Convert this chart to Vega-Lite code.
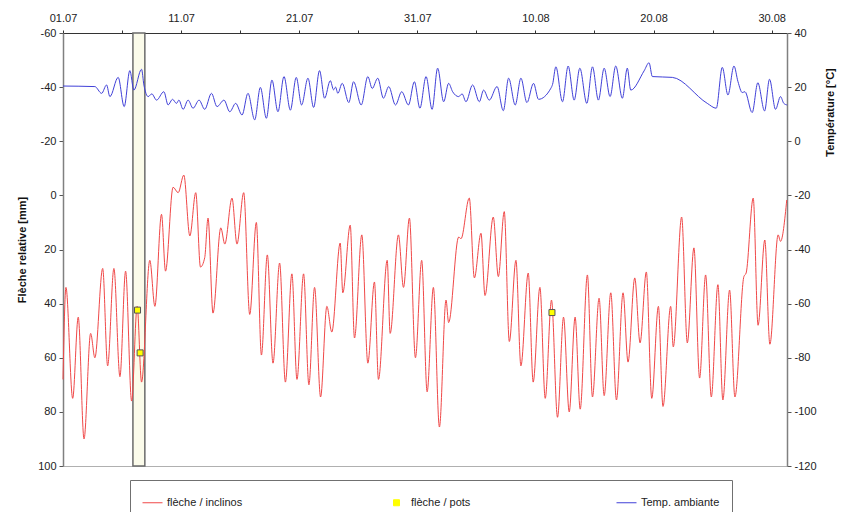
{
  "$schema": "https://vega.github.io/schema/vega-lite/v6.json",
  "width": 724,
  "height": 433,
  "autosize": {"type": "none"},
  "padding": {"left": 63, "top": 33, "right": 56, "bottom": 46},
  "background": "white",
  "config": {
    "view": {"stroke": "#b0b0b0", "strokeWidth": 1},
    "font": "Liberation Sans",
    "axis": {
      "labelFont": "Liberation Sans",
      "labelFontSize": 11,
      "labelColor": "#222222",
      "titleFont": "Liberation Sans",
      "titleFontSize": 11,
      "titleFontWeight": "bold",
      "titleColor": "#111111",
      "grid": false,
      "tickColor": "#555555",
      "domainColor": "#808080"
    },
    "axisX": {
      "orient": "top",
      "title": null,
      "values": [0,1,2,3,4,5,6,7,8,9,10,11,12,13,14,15,16,17,18,19,20,21,22,23,24,25,26,27,28,29,30,31,32,33,34,35,36,37,38,39,40,41,42,43,44,45,46,47,48,49,50,51,52,53,54,55,56,57,58,59,60,61],
      "labelExpr": "datum.value % 10 === 0 ? timeFormat(datetime(2000, 6, 1 + datum.value), '%d.%m') : ''",
      "labelOverlap": false,
      "labelFlush": false,
      "labelPadding": 7,
      "tickSize": 3,
      "domainColor": "#333333",
      "tickColor": "#333333"
    },
    "legend": {"labelFont": "Liberation Sans", "labelFontSize": 11, "labelColor": "#222222"}
  },
  "datasets": {
    "bande": [{"debut": 5.92, "fin": 6.93}],
    "pots": [
      {"jour": 6.31, "fleche": 42.4},
      {"jour": 6.53, "fleche": 58.2},
      {"jour": 41.4, "fleche": 43.3}
    ],
    "fleche": [
      {"jour": 0, "fleche": 68}, {"jour": 0.25, "fleche": 34}, {"jour": 0.82, "fleche": 75}, {"jour": 1.29, "fleche": 45},
      {"jour": 1.78, "fleche": 90}, {"jour": 2.34, "fleche": 51}, {"jour": 2.7, "fleche": 60}, {"jour": 3.36, "fleche": 27},
      {"jour": 3.78, "fleche": 63}, {"jour": 4.31, "fleche": 27}, {"jour": 4.82, "fleche": 67}, {"jour": 5.3, "fleche": 28},
      {"jour": 5.81, "fleche": 76}, {"jour": 6.28, "fleche": 41}, {"jour": 6.65, "fleche": 69}, {"jour": 7.35, "fleche": 24},
      {"jour": 7.78, "fleche": 41}, {"jour": 8.34, "fleche": 7}, {"jour": 8.68, "fleche": 28}, {"jour": 9.32, "fleche": -3},
      {"jour": 9.75, "fleche": -1}, {"jour": 10.23, "fleche": -7.5}, {"jour": 10.74, "fleche": 15}, {"jour": 11.24, "fleche": -1},
      {"jour": 11.64, "fleche": 26.5}, {"jour": 12.0, "fleche": 23}, {"jour": 12.28, "fleche": 8.4}, {"jour": 12.7, "fleche": 43.5},
      {"jour": 13.36, "fleche": 12}, {"jour": 13.7, "fleche": 18}, {"jour": 14.31, "fleche": 1}, {"jour": 14.73, "fleche": 18},
      {"jour": 15.3, "fleche": -1}, {"jour": 15.81, "fleche": 44}, {"jour": 16.37, "fleche": 10}, {"jour": 16.8, "fleche": 59},
      {"jour": 17.3, "fleche": 22}, {"jour": 17.78, "fleche": 62}, {"jour": 18.34, "fleche": 25}, {"jour": 18.83, "fleche": 69},
      {"jour": 19.38, "fleche": 29}, {"jour": 19.81, "fleche": 68}, {"jour": 20.37, "fleche": 29}, {"jour": 20.82, "fleche": 70},
      {"jour": 21.3, "fleche": 34}, {"jour": 21.81, "fleche": 74.5}, {"jour": 22.34, "fleche": 41}, {"jour": 22.76, "fleche": 50.5},
      {"jour": 23.47, "fleche": 17.6}, {"jour": 23.69, "fleche": 36}, {"jour": 24.32, "fleche": 11}, {"jour": 24.68, "fleche": 52.7},
      {"jour": 25.3, "fleche": 14.6}, {"jour": 25.81, "fleche": 62}, {"jour": 26.37, "fleche": 32}, {"jour": 26.71, "fleche": 68},
      {"jour": 27.45, "fleche": 24}, {"jour": 27.7, "fleche": 51}, {"jour": 28.4, "fleche": 14.6}, {"jour": 28.83, "fleche": 34},
      {"jour": 29.33, "fleche": 8.4}, {"jour": 29.84, "fleche": 60}, {"jour": 30.37, "fleche": 24}, {"jour": 30.83, "fleche": 72.6},
      {"jour": 31.36, "fleche": 34}, {"jour": 31.87, "fleche": 85.6}, {"jour": 32.43, "fleche": 38.7}, {"jour": 32.65, "fleche": 47},
      {"jour": 33.5, "fleche": 15.4}, {"jour": 33.7, "fleche": 16}, {"jour": 34.4, "fleche": 1}, {"jour": 34.83, "fleche": 30.5},
      {"jour": 35.39, "fleche": 14}, {"jour": 35.73, "fleche": 37}, {"jour": 36.43, "fleche": 8}, {"jour": 36.86, "fleche": 30},
      {"jour": 37.36, "fleche": 6}, {"jour": 37.79, "fleche": 54}, {"jour": 38.35, "fleche": 24}, {"jour": 38.77, "fleche": 63},
      {"jour": 39.39, "fleche": 28.7}, {"jour": 39.81, "fleche": 69}, {"jour": 40.38, "fleche": 34}, {"jour": 40.83, "fleche": 75},
      {"jour": 41.36, "fleche": 38.7}, {"jour": 41.87, "fleche": 82}, {"jour": 42.38, "fleche": 45}, {"jour": 42.86, "fleche": 80},
      {"jour": 43.36, "fleche": 45}, {"jour": 43.79, "fleche": 79}, {"jour": 44.4, "fleche": 29.4}, {"jour": 44.83, "fleche": 74.5},
      {"jour": 45.39, "fleche": 38}, {"jour": 45.82, "fleche": 74}, {"jour": 46.38, "fleche": 36}, {"jour": 46.86, "fleche": 75.6},
      {"jour": 47.42, "fleche": 36}, {"jour": 47.84, "fleche": 61.6}, {"jour": 48.41, "fleche": 30.5}, {"jour": 48.86, "fleche": 54.5},
      {"jour": 49.39, "fleche": 28.3}, {"jour": 49.85, "fleche": 75}, {"jour": 50.41, "fleche": 41}, {"jour": 50.8, "fleche": 78},
      {"jour": 51.45, "fleche": 41}, {"jour": 51.67, "fleche": 56}, {"jour": 52.38, "fleche": 8}, {"jour": 52.86, "fleche": 54.5},
      {"jour": 53.42, "fleche": 19.4}, {"jour": 53.9, "fleche": 67.5}, {"jour": 54.41, "fleche": 29.4}, {"jour": 54.89, "fleche": 74.5},
      {"jour": 55.45, "fleche": 33}, {"jour": 55.87, "fleche": 75.6}, {"jour": 56.44, "fleche": 35}, {"jour": 56.89, "fleche": 74.5},
      {"jour": 57.65, "fleche": 30}, {"jour": 57.84, "fleche": 28.7}, {"jour": 58.44, "fleche": 1}, {"jour": 58.85, "fleche": 48},
      {"jour": 59.42, "fleche": 16.5}, {"jour": 59.85, "fleche": 55}, {"jour": 60.55, "fleche": 14.6}, {"jour": 60.75, "fleche": 17},
      {"jour": 61.28, "fleche": 1.7}
    ],
    "temp": [
      {"jour": 0, "temp": 20.4}, {"jour": 2.7, "temp": 20.2}, {"jour": 3.27, "temp": 17.7}, {"jour": 3.69, "temp": 20.8},
      {"jour": 3.97, "temp": 16.5}, {"jour": 4.67, "temp": 23.6}, {"jour": 5.18, "temp": 12.8}, {"jour": 5.66, "temp": 26.1},
      {"jour": 6.0, "temp": 18.9}, {"jour": 6.65, "temp": 26.6}, {"jour": 6.85, "temp": 20.8}, {"jour": 7.21, "temp": 16.5},
      {"jour": 7.52, "temp": 17.5}, {"jour": 7.92, "temp": 15.2}, {"jour": 8.54, "temp": 18.3}, {"jour": 8.9, "temp": 13.4},
      {"jour": 9.27, "temp": 15.5}, {"jour": 9.61, "temp": 14}, {"jour": 9.81, "temp": 15.2}, {"jour": 10.17, "temp": 11.8},
      {"jour": 10.59, "temp": 15.2}, {"jour": 11.01, "temp": 12.2}, {"jour": 11.52, "temp": 15.2}, {"jour": 12.0, "temp": 11.8},
      {"jour": 12.57, "temp": 17.7}, {"jour": 13.04, "temp": 12.8}, {"jour": 13.63, "temp": 15.2}, {"jour": 14.12, "temp": 10.9},
      {"jour": 14.62, "temp": 14}, {"jour": 15.16, "temp": 9.7}, {"jour": 15.66, "temp": 17.7}, {"jour": 16.23, "temp": 7.9},
      {"jour": 16.71, "temp": 19.9}, {"jour": 17.22, "temp": 8.5}, {"jour": 17.69, "temp": 22.6}, {"jour": 18.2, "temp": 10.9},
      {"jour": 18.71, "temp": 23.9}, {"jour": 19.25, "temp": 11.5}, {"jour": 19.75, "temp": 23.6}, {"jour": 20.2, "temp": 13.4},
      {"jour": 20.74, "temp": 23.3}, {"jour": 21.22, "temp": 12.5}, {"jour": 21.72, "temp": 26.1}, {"jour": 22.15, "temp": 15.9},
      {"jour": 22.63, "temp": 22.4}, {"jour": 22.91, "temp": 19}, {"jour": 23.08, "temp": 20}, {"jour": 23.27, "temp": 17.7},
      {"jour": 23.64, "temp": 21.4}, {"jour": 24.2, "temp": 14.3}, {"jour": 24.6, "temp": 22}, {"jour": 25.25, "temp": 13.4},
      {"jour": 25.81, "temp": 23.9}, {"jour": 26.18, "temp": 19.5}, {"jour": 26.65, "temp": 23.3}, {"jour": 27.13, "temp": 15.9},
      {"jour": 27.58, "temp": 20.2}, {"jour": 28.15, "temp": 13.4}, {"jour": 28.68, "temp": 18.3}, {"jour": 29.25, "temp": 13.4},
      {"jour": 29.75, "temp": 22}, {"jour": 30.22, "temp": 12.2}, {"jour": 30.74, "temp": 23.9}, {"jour": 31.25, "temp": 11.8},
      {"jour": 31.72, "temp": 27}, {"jour": 32.23, "temp": 14.6}, {"jour": 32.65, "temp": 21.4}, {"jour": 32.99, "temp": 18.3},
      {"jour": 33.5, "temp": 16.5}, {"jour": 33.79, "temp": 17.5}, {"jour": 34.12, "temp": 14.6}, {"jour": 34.68, "temp": 20.8},
      {"jour": 35.25, "temp": 14.6}, {"jour": 35.61, "temp": 18.9}, {"jour": 36.09, "temp": 15.2}, {"jour": 36.75, "temp": 20.2},
      {"jour": 37.28, "temp": 11.3}, {"jour": 37.73, "temp": 23.3}, {"jour": 38.29, "temp": 13.4}, {"jour": 38.77, "temp": 23.3},
      {"jour": 39.28, "temp": 14.3}, {"jour": 39.84, "temp": 21.4}, {"jour": 40.26, "temp": 15.5}, {"jour": 41.31, "temp": 19.6},
      {"jour": 41.45, "temp": 21}, {"jour": 41.73, "temp": 27.5}, {"jour": 42.29, "temp": 14.6}, {"jour": 42.77, "temp": 27.8},
      {"jour": 43.28, "temp": 15.2}, {"jour": 43.76, "temp": 27}, {"jour": 44.35, "temp": 14}, {"jour": 44.83, "temp": 27.5},
      {"jour": 45.33, "temp": 15.2}, {"jour": 45.82, "temp": 27}, {"jour": 46.32, "temp": 16.5}, {"jour": 46.8, "temp": 27.8},
      {"jour": 47.36, "temp": 15.9}, {"jour": 47.78, "temp": 27}, {"jour": 48.07, "temp": 18.9}, {"jour": 49.2, "temp": 26},
      {"jour": 49.62, "temp": 29}, {"jour": 49.9, "temp": 23.9}, {"jour": 51.59, "temp": 23.6}, {"jour": 54.55, "temp": 14},
      {"jour": 55.31, "temp": 12.2}, {"jour": 55.82, "temp": 27.3}, {"jour": 56.3, "temp": 17.1}, {"jour": 56.81, "temp": 27.8},
      {"jour": 57.15, "temp": 22}, {"jour": 57.51, "temp": 18}, {"jour": 57.74, "temp": 18.3}, {"jour": 58.35, "temp": 10.6},
      {"jour": 58.83, "temp": 21.6}, {"jour": 59.4, "temp": 11.2}, {"jour": 59.82, "temp": 22.9}, {"jour": 60.33, "temp": 11.8},
      {"jour": 60.75, "temp": 16.5}, {"jour": 61.03, "temp": 14}, {"jour": 61.31, "temp": 13.4}
    ]
  },
  "layer": [
    {
      "data": {"name": "bande"},
      "mark": {"type": "rect", "fill": "#fbfbea", "stroke": "#6b6b6b", "strokeWidth": 1.5},
      "encoding": {
        "x": {
          "field": "debut",
          "type": "quantitative",
          "scale": {"domain": [0, 61.3], "nice": false, "zero": false}
        },
        "x2": {"field": "fin"}
      }
    },
    {
      "data": {"name": "fleche"},
      "mark": {"type": "line", "strokeWidth": 1, "interpolate": "monotone"},
      "encoding": {
        "x": {"field": "jour", "type": "quantitative"},
        "y": {
          "field": "fleche",
          "type": "quantitative",
          "scale": {"domain": [-60, 100], "reverse": true, "nice": false, "zero": false},
          "axis": {
            "orient": "left",
            "title": "Flèche relative [mm]",
            "values": [-60, -40, -20, 0, 20, 40, 60, 80, 100],
            "labelExpr": "'' + datum.value",
            "tickSize": 4,
            "labelPadding": 3,
            "titlePadding": 10,
            "domainWidth": 1.5
          }
        },
        "color": {
          "datum": "flèche / inclinos",
          "type": "nominal",
          "scale": {
            "domain": ["flèche / inclinos", "flèche / pots", "Temp. ambiante"],
            "range": ["#f04848", "#ffff00", "#4040d8"]
          },
          "legend": {
            "orient": "none",
            "legendX": 67,
            "legendY": 447,
            "direction": "horizontal",
            "title": null,
            "padding": 12,
            "strokeColor": "#707070",
            "fillColor": "white",
            "columnPadding": 143,
            "symbolSize": 400,
            "symbolType": "stroke",
            "symbolStrokeWidth": 1,
            "encode": {
              "symbols": {
                "update": {
                  "shape": {"signal": "datum.value === 'flèche / pots' ? 'square' : 'stroke'"},
                  "size": {"signal": "datum.value === 'flèche / pots' ? 36 : 400"},
                  "fill": {"signal": "datum.value === 'flèche / pots' ? '#ffff00' : 'transparent'"},
                  "stroke": {"signal": "datum.value === 'flèche / pots' ? '#555555' : (datum.value === 'Temp. ambiante' ? '#4040d8' : '#f04848')"},
                  "strokeWidth": {"value": 1},
                  "strokeOpacity": {"value": 1}
                }
              }
            }
          }
        }
      }
    },
    {
      "data": {"name": "pots"},
      "mark": {"type": "point", "shape": "square", "filled": true, "size": 36, "stroke": "#555555", "strokeWidth": 1, "opacity": 1},
      "encoding": {
        "x": {"field": "jour", "type": "quantitative"},
        "y": {
          "field": "fleche",
          "type": "quantitative",
          "scale": {"domain": [-60, 100], "reverse": true, "nice": false, "zero": false},
          "axis": null
        },
        "color": {"datum": "flèche / pots", "type": "nominal"}
      }
    },
    {
      "data": {"name": "temp"},
      "mark": {"type": "line", "strokeWidth": 1, "interpolate": "monotone"},
      "encoding": {
        "x": {"field": "jour", "type": "quantitative"},
        "y": {
          "field": "temp",
          "type": "quantitative",
          "scale": {"domain": [-120, 40], "nice": false, "zero": false},
          "axis": {
            "orient": "right",
            "title": "Température [°C]",
            "values": [-120, -100, -80, -60, -40, -20, 0, 20, 40],
            "labelExpr": "'' + datum.value",
            "tickSize": 4,
            "labelPadding": 3,
            "titleAngle": 270,
            "titleX": 43,
            "titleY": 79,
            "titleAlign": "center",
            "titleBaseline": "middle",
            "domainWidth": 1.5
          }
        },
        "color": {"datum": "Temp. ambiante", "type": "nominal"}
      }
    }
  ],
  "resolve": {"scale": {"y": "independent"}}
}
